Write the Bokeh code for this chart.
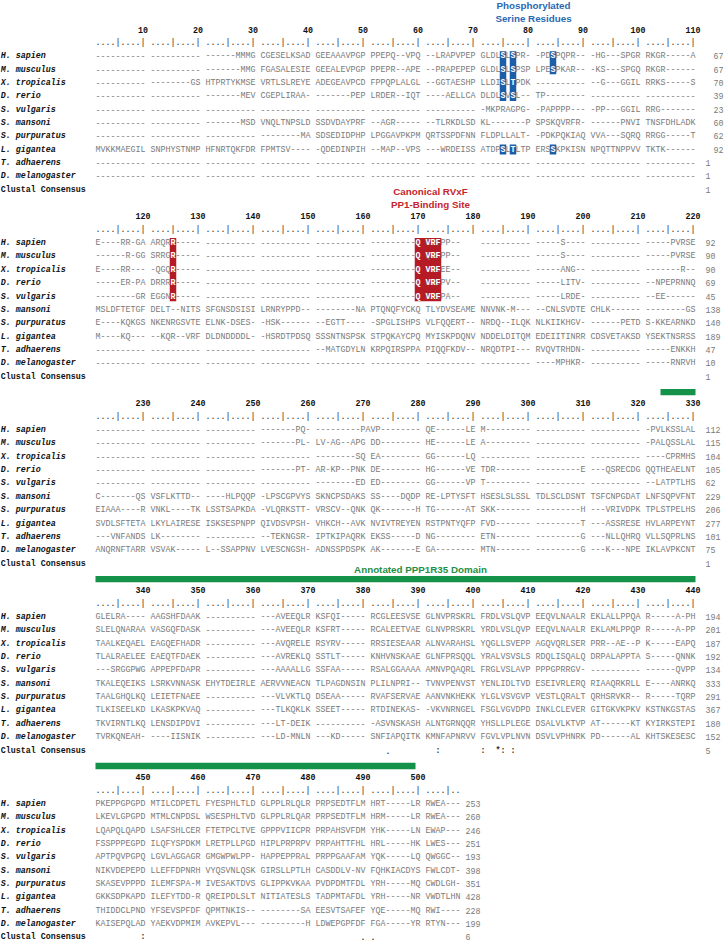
from bokeh.plotting import figure
from bokeh.models import Range1d
from bokeh.embed import file_html
from bokeh.resources import INLINE
from bokeh.core.properties import value

# ---------------- data ----------------
SPECIES = ["H. sapien", "M. musculus", "X. tropicalis", "D. rerio", "S. vulgaris",
           "S. mansoni", "S. purpuratus", "L. gigantea", "T. adhaerens", "D. melanogaster"]
CONSENSUS_LABEL = "Clustal Consensus"

H_SAPIEN = [
    "---------- ---------- ------MMMG CGESELKSAD GEEAAAVPGP PPEPQ--VPQ --LRAPVPEP GLDLSLSPR- -PDSPQPR-- -HG---SPGR RKGR-----A",
    "E----RR-GA ARQRR----- ---------- ---------- ---------- ---------Q VRFRLTPP-- ---------- -----S---- ---------- -----PVRSE",
    "---------- ---------- ---------- -------PQ- ---------PA VP-------- QE------LE M--------- ---------- ---------- -PVLKSSLAL",
    "GLELRA---- AAGSHFDAAK ---------- ---AVEEQLR KSFQI----- RCGLEESVSE GLNVPRSKRL FRDLVSLQVP EEQVLNAALR EKLALLPPQA R-----A-PH",
    "PKEPPGPGPD MTILCDPETL FYESPHLTLD GLPPLRLQLR PRPSEDTFLM HRT-----LR RWEA---",
]
M_MUSCULUS = [
    "---------- ---------- -------MMG FGASALESIE GEEALEVPGP PPEPR--APE --PRAPEPEP GLDLSLSPSP LPESPKAR-- -KS---SPGQ RKGR------",
    "------R-GG SRRGR----- ---------- ---------- ---------- ---------Q VRFQLAPP-- ---------- -----S---- ---------- -----PVRSE",
    "---------- ---------- ---------- -------PL- LV-AG--APG DD-------- HE------LE A--------- ---------- ---------- -PALQSSLAL",
    "SLELQNARAA VASGQFDASK ---------- ---AVEEQLR KSFRT----- RCALEETVAE GLNVPRSKRL YRDLVSLQVP EEQVLNAALR EKLAMLPPQP R-----A-PP",
    "LKEVLGPGPD MTMLCNPDSL WSESPHLTVD GLPPLRLQAR PRPSEDTFLM HRM-----LR RWEA---",
]
X_TROPICALIS = [
    "---------- --------GS HTPRTYKMSE VRTLSLREYE ADEGEAVPCD FPPQPLALGL --GGTAESHP LLDISLTPDK ---------- --G---GGIL RRKS-----S",
    "E----RR--- -QGQR----- ---------- ---------- ---------- ---------Q VRFVVSEE-- ---------- -----ANG-- ---------- -------R--",
    "---------- ---------- ---------- ---------- --------SQ EA-------- GG------LQ ---------- ---------- ---------- ----CPRMHS",
    "TAALKEQAEL EAGQEFHADR ---------- ---AVQRELE RSYRV----- RRSIESEAAR ALNVARAHSL YQGLLSVEPP AGQVQRLSER PRR--AE--P K-----EAPQ",
    "LQAPQLQAPD LSAFSHLCER FTETPCLTVE GPPPVIICPR PRPAHSVFDM YHK-----LN EWAP---",
]
D_RERIO = [
    "---------- ---------- -------MEV CGEPLIRAA- -------PEP LRDER--IQT ----AELLCA DLDLSVSL-- TP-------- ---------- ----------",
    "-----ER-PA DRRRR----- ---------- ---------- ---------- ---------Q VRFNVDPV-- ---------- -----LITV- ---------- --NPEPRNNQ",
    "---------- ---------- ---------- -------PT- AR-KP--PNK DE-------- HG------VE TDR------- ---------E ---QSRECDG QQTHEAELNT",
    "TLALRAELEE EAEQTFDAEK ---------- ---AVREKLQ SSTLT----- KNHVNSKAAE GLNFPRSQQL YRALVSVSLS RDQLISQALQ DRPALAPPTA S-----QNNK",
    "FSSPPPEGPD ILQFYSPDKM LRETPLLPGD HIPLPRPRPV PRPAHTTFHL HRL-----HK LWES---",
]
S_VULGARIS = [
    "---------- ---------- ---------- ---------- ---------- ---------- ---------- -MKPRAGPG- -PAPPPP--- -PP---GGIL RRG-------",
    "--------GR EGGNR----- ---------- ---------- ---------- ---------Q VRFAPSPA-- ---------- -----LRDE- ---------- --EE------",
    "---------- ---------- ---------- ---------- --------ED ED-------- GG------VP T--------- ---------- ---------- --LATPTLHS",
    "---SRGGPWG APPEPFDAPR ---------- ---AAAALLG SSFAA----- RSALGGAAAA AMNVPQAQRL FRGLVSLAVP PPPGPRRGV- ---------- ------QVPP",
    "APTPQVPGPQ LGVLAGGAGR GMGWPWLPP- HAPPEPPRAL PRPPGAAFAM YQK-----LQ QWGGC--",
]
S_MANSONI = [
    "---------- ---------- -------MSD VNQLTNPSLD SSDVDAYPRF --AGR----- --TLRKDLSD KL-------P SPSKQVRFR- ------PNVI TNSFDHLADK",
    "MSLDFTETGF DELT--NITS SFGNSDSISI LRNRYPPD-- --------NA PTQNQFYCKQ TLYDVSEAME NNVNK-M--- --CNLSVDTE CHLK------ --------GS",
    "C-------QS VSFLKTTD-- ----HLPQQP -LPSCGPVYS SKNCPSDAKS SS----DQDP RE-LPTYSFT HSESLSLSSL TDLSCLDSNT TSFCNPGDAT LNFSQPVFNT",
    "TKALEQEIKS LSRKVNNASK EHYTDEIRLE AERVVNEACN TLPAGDNSIN PLILNPRI-- TVNVPENVST YENLIDLTVD ESEIVRLERQ RIAAQRKRLL E----ANRKQ",
    "NIKVDEPEPD LLEFFDPNRH VYQSVNLQSK GIRSLLPTLH CASDDLV-NV FQHKIACDYS FWLCDT-",
]
S_PURPURATUS = [
    "---------- ---------- ---------- --------MA SDSEDIDPHP LPGGAVPKPM QRTSSPDFNN FLDPLLALT- -PDKPQKIAQ VVA---SQRQ RRGG-----T",
    "E----KQKGS NKENRGSVTE ELNK-DSES- -HSK------ --EGTT---- -SPGLISHPS VLFQQERT-- NRDQ--ILQK NLKIIKHGV- ------PETD S-KKEARNKD",
    "EIAAA----R VNKL----TK LSSTSAPKDA -VLQRKSTT- VRSCV--QNK QK-------H TG------AT SKK------- ---------H ---VRIVDPK TPLSTPELHS",
    "TAALGHQLKQ LEIETFNAEE ---------- ---VLVKTLQ DSEAA----- RVAFSERVAE AANVNKHEKK YLGLVSVGVP VESTLQRALT QRHSRVKR-- R-----TQRP",
    "SKASEVPPPD ILEMFSPA-M IVESAKTDVS GLIPPKVKAA PVDPDMTFDL YRH-----MQ CWDLGH-",
]
L_GIGANTEA = [
    "MVKKMAEGIL SNPHYSTNMP HFNRTQKFDR FPMTSV---- -QDEDINPIH --MAP--VPS ---WRDEISS ATDPSLTLTP ERSSKPKISN NPQTTNPPVV TKTK------",
    "M----KQ--- --KQR--VRF DLDNDDDDL- -HSRDTPDSQ SSSNTNSPSK STPQKAYCPQ MYISKPDQNV NDDELDITQM EDEIITINRR CDSVETAKSD YSEKTNSRSS",
    "SVDLSFTETA LKYLAIRESE ISKSESPNPP QIVDSVPSH- VHKCH--AVK NVIVTREYEN RSTPNTYQFP FVD------- ---------T ---ASSRESE HVLARPEYNT",
    "TLKISEELKD LKASKPKVAQ ---------- ---TLKQKLK SSEET----- RTDINEKAS- -VKVNRNGEL FSGLVGVDPD INKLCLEVER GITGKVKPKV KSTNKGSTAS",
    "GKKSDPKAPD ILEFYTDD-R QREIPDLSLT NITIATESLS TADPMTAFDL YRH-----NR VWDTLHN",
]
T_ADHAERENS = [
    "---------- ---------- ---------- ---------- ---------- ---------- ---------- ---------- ---------- ---------- ----------",
    "---------- ---------- ---------- ---------- --MATGDYLN KRPQIRSPPA PIQQFKDV-- NRQDTPI--- RVQVTRHDN- ---------- -----ENKKH",
    "---VNFANDS LK-------- ---------- --TEKNGSR- IPTKIPAQRK EKSS-----D NG-------- ETN------- ---------G ---NLLQHRQ VLLSQPRLNS",
    "TKVIRNTLKQ LENSDIPDVI ---------- ---LT-DEIK ---------- -ASVNSKASH ALNTGRNQQR YHSLLPLEGE DSALVLKTVP AT------KT KYIRKSTEPI",
    "THIDDCLPND YFSEVSPFDF QPMTNKIS-- --------SA EESVTSAFEF YQE-----MQ RWI----",
]
D_MELANOGASTER = [
    "---------- ---------- ---------- ---------- ---------- ---------- ---------- ---------- ---------- ---------- ----------",
    "---------- ---------- ---------- ---------- ---------- ---------- ---------- ---------- ----MPHKR- ---------- -----RNRVH",
    "ANQRNFTARR VSVAK----- L--SSAPPNV LVESCNGSH- ADNSSPDSPK AK-------E GA-------- MTN------- ---------G ---K---NPE IKLAVPKCNT",
    "TVRKQNEAH- ----IISNIK ---------- ---LD-MNLN ---KD----- SNFIAPQITK KMNFAPNRVV FGVLVPLNVN DSVLVPHNRK PD------AL KHTSKESESC",
    "KAISEPQLAD YAEKVDPMIM AVKEPVL--- ---------H LDWEPGPFDF FGA-----YR RTYN---",
]

END_H_SAPIEN = [67, 92, 112, 194, 253]
END_M_MUSCULUS = [67, 90, 115, 201, 260]
END_X_TROPICALIS = [70, 90, 104, 187, 246]
END_D_RERIO = [39, 69, 105, 192, 251]
END_S_VULGARIS = [23, 45, 62, 134, 193]
END_S_MANSONI = [60, 138, 229, 333, 398]
END_S_PURPURATUS = [62, 140, 206, 291, 351]
END_L_GIGANTEA = [92, 189, 277, 367, 428]
END_T_ADHAERENS = [1, 47, 101, 180, 228]
END_D_MELANOGASTER = [1, 10, 75, 152, 199]
END_CONSENSUS = [1, 1, 1, 5, 6]

CONS_COLS = [384, 393, 401, 404, 405, 407, 450, 490, 491]
CONS_SYMS = [".", ":", ":", "*", ":", ":", ":", ".", "."]

PHOSPHO_COLS = [75, 77, 84]
PHOSPHO_ROWS = [[0, 1, 2, 3, 7], [0, 1, 2, 3, 7], [0, 1, 7]]
RVXF_SPANS = [(125, 125), (170, 173)]
RVXF_ROWS = [0, 1, 2, 3, 4]
DOMAIN_START, DOMAIN_END = 324, 499
ALIGN_LEN = 507

PHOSPHO_LABEL = ["Phosphorylated", "Serine Residues"]
RVXF_LABEL = ["Canonical RVxF", "PP1-Binding Site"]
DOMAIN_LABEL = "Annotated PPP1R35 Domain"

SEQS = [H_SAPIEN, M_MUSCULUS, X_TROPICALIS, D_RERIO, S_VULGARIS,
        S_MANSONI, S_PURPURATUS, L_GIGANTEA, T_ADHAERENS, D_MELANOGASTER]
ENDS = [END_H_SAPIEN, END_M_MUSCULUS, END_X_TROPICALIS, END_D_RERIO, END_S_VULGARIS,
        END_S_MANSONI, END_S_PURPURATUS, END_L_GIGANTEA, END_T_ADHAERENS, END_D_MELANOGASTER]

# ---------------- layout helpers ----------------
BLOCK = 110
LINES = 14
MONO = value("Liberation Mono")
SANS = value("Liberation Sans")
FS = "8.33px"
SEQ_COLOR = "#7a7a7a"
BLUE = "#1c5ea8"
RED = "#b51b24"
GREEN = "#14924a"


def col_pos(col):
    i = (col - 1) % BLOCK
    b = (col - 1) // BLOCK
    return b, i + i // 10


def row_line(b, r):
    return LINES * b + 2 + r


p = figure(width=725, height=945, x_range=Range1d(-19, 126), y_range=Range1d(68.6, -2.172),
           output_backend="svg", toolbar_location=None, min_border=0,
           x_axis_location=None, y_axis_location=None, outline_line_color=None)
p.xgrid.visible = False
p.ygrid.visible = False
p.background_fill_color = "white"

# highlighted cells
hl = set()
for c, rows in zip(PHOSPHO_COLS, PHOSPHO_ROWS):
    for r in rows:
        hl.add((r, c))
for a, e in RVXF_SPANS:
    for c in range(a, e + 1):
        for r in RVXF_ROWS:
            hl.add((r, c))


def runs(rows):
    out, start, prev = [], rows[0], rows[0]
    for r in rows[1:]:
        if r == prev + 1:
            prev = r
            continue
        out.append((start, prev))
        start = prev = r
    out.append((start, prev))
    return out


# boxes
bl, br, bt, bb, bc = [], [], [], [], []
for c, rows in zip(PHOSPHO_COLS, PHOSPHO_ROWS):
    b, s = col_pos(c)
    for r0, r1 in runs(rows):
        bl.append(s - 0.15); br.append(s + 1.15)
        bt.append(row_line(b, r0) - 0.38); bb.append(row_line(b, r1) + 0.36)
        bc.append(BLUE)
for a, e in RVXF_SPANS:
    b, s0 = col_pos(a)
    _, s1 = col_pos(e)
    for r0, r1 in runs(RVXF_ROWS):
        bl.append(s0 - 0.15); br.append(s1 + 1.15)
        bt.append(row_line(b, r0) - 0.38); bb.append(row_line(b, r1) + 0.36)
        bc.append(RED)
p.quad(left=bl, right=br, top=bt, bottom=bb, fill_color=bc, line_color=None)

# domain bars
dl, dr, dt, db = [], [], [], []
for b in range(5):
    c0 = max(DOMAIN_START, b * BLOCK + 1)
    c1 = min(DOMAIN_END, (b + 1) * BLOCK)
    if c0 <= c1:
        _, s0 = col_pos(c0)
        _, s1 = col_pos(c1)
        dl.append(s0); dr.append(s1 + 1)
        dt.append(LINES * b - 1.08); db.append(LINES * b - 0.6)
p.quad(left=dl, right=dr, top=dt, bottom=db, fill_color=GREEN, line_color=None)

# names
nx, ny, nt = [], [], []
cx, cy, ct = [], [], []
for b in range(5):
    for r, name in enumerate(SPECIES):
        nx.append(-18.95); ny.append(row_line(b, r)); nt.append(name)
    cx.append(-18.95); cy.append(row_line(b, 10)); ct.append(CONSENSUS_LABEL)
p.text(x=nx, y=ny, text=nt, text_font=MONO, text_font_size=FS, text_font_style="bold italic",
       text_color="#111111", text_baseline="middle", text_align="left")
p.text(x=cx, y=cy, text=ct, text_font=MONO, text_font_size=FS, text_font_style="bold",
       text_color="#111111", text_baseline="middle", text_align="left")

# sequences
sx, sy, st = [], [], []
hx, hy, ht = [], [], []
for r, blocks in enumerate(SEQS):
    for b, blk in enumerate(blocks):
        for k, grp in enumerate(blk.split()):
            chars = list(grp)
            for j, ch in enumerate(chars):
                col = b * BLOCK + k * 10 + j + 1
                if (r, col) in hl:
                    hx.append(k * 11 + j + 0.5); hy.append(row_line(b, r)); ht.append(ch)
                    chars[j] = " "
            sx.append(k * 11); sy.append(row_line(b, r)); st.append("".join(chars))
p.text(x=sx, y=sy, text=st, text_font=MONO, text_font_size=FS, text_color=SEQ_COLOR,
       text_baseline="middle", text_align="left")
p.text(x=hx, y=hy, text=ht, text_font=MONO, text_font_size=FS, text_font_style="bold",
       text_color="white", text_baseline="middle", text_align="center")

# end numbers
ex, ey, et = [], [], []
for b in range(5):
    base = 122 if b < 4 else 74
    for r, ends in enumerate(ENDS):
        n = ends[b]
        ex.append(base + (1.6 if (b == 0 and n >= 10) else 0)); ey.append(row_line(b, r)); et.append(str(n))
    ex.append(base); ey.append(row_line(b, 10)); et.append(str(END_CONSENSUS[b]))
p.text(x=ex, y=ey, text=et, text_font=MONO, text_font_size=FS, text_color=SEQ_COLOR,
       text_baseline="middle", text_align="left")

# ruler and numbering
rx, ry, rt = [], [], []
kx, ky, kt = [], [], []
for b in range(5):
    ncols = min(BLOCK, ALIGN_LEN - b * BLOCK)
    for k in range((ncols + 9) // 10):
        n = min(10, ncols - k * 10)
        rx.append(k * 11); ry.append(LINES * b + 1)
        rt.append("".join("|" if (j + 1) % 5 == 0 else "." for j in range(n)))
    for col in range(b * BLOCK + 10, b * BLOCK + ncols + 1, 10):
        _, s = col_pos(col)
        kx.append(s + 0.5); ky.append(LINES * b); kt.append(str(col))
p.text(x=rx, y=ry, text=rt, text_font=MONO, text_font_size=FS, text_color="#222222",
       text_baseline="middle", text_align="left")
p.text(x=kx, y=ky, text=kt, text_font=MONO, text_font_size=FS, text_font_style="bold",
       text_color="#111111", text_baseline="middle", text_align="center")

# consensus symbols
qx, qy = [], []
for c in CONS_COLS:
    b, s = col_pos(c)
    qx.append(s + 0.5); qy.append(row_line(b, 10))
p.text(x=qx, y=qy, text=CONS_SYMS, text_font=MONO, text_font_size=FS, text_font_style="bold",
       text_color="#333333", text_baseline="middle", text_align="center")

# annotation labels
p.text(x=[87.6, 87.6], y=[-1.78, -0.86], text=PHOSPHO_LABEL, text_font=SANS, text_font_size="9.8px",
       text_font_style="bold", text_color="#2a69b3", text_baseline="middle", text_align="center")
p.text(x=[67.0, 67.0], y=[12.12, 13.1], text=RVXF_LABEL, text_font=SANS, text_font_size="9.8px",
       text_font_style="bold", text_color="#c4262e", text_baseline="middle", text_align="center")
p.text(x=[65.0], y=[40.42], text=[DOMAIN_LABEL], text_font=SANS, text_font_size="9.8px",
       text_font_style="bold", text_color="#1d8f45", text_baseline="middle", text_align="center")

open("out.html", "w").write(file_html(p, INLINE))
